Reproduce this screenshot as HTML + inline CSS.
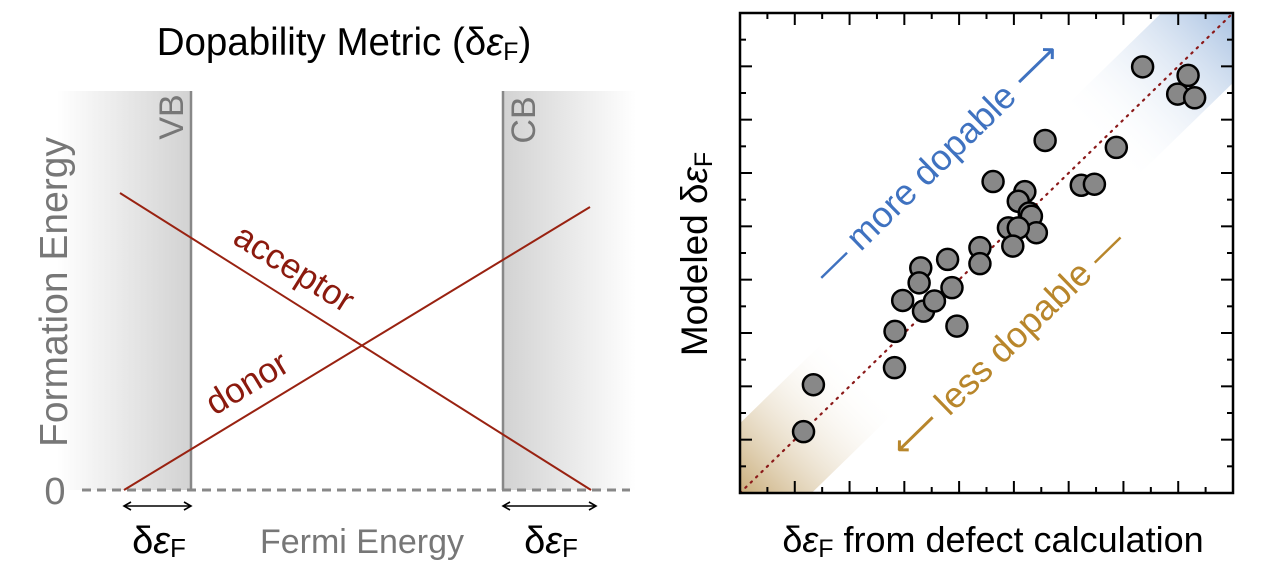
<!DOCTYPE html>
<html><head><meta charset="utf-8"><style>
html,body{margin:0;padding:0;background:#fff;}
svg{display:block;font-family:"Liberation Sans",sans-serif;}
</style></head><body>
<svg width="1283" height="561" viewBox="0 0 1283 561">
<defs>
<linearGradient id="lband" x1="0" x2="1" y1="0" y2="0"><stop offset="0" stop-color="#fff"/><stop offset="1" stop-color="#d2d2d2"/></linearGradient>
<linearGradient id="rband" x1="0" x2="1" y1="0" y2="0"><stop offset="0" stop-color="#d2d2d2"/><stop offset="1" stop-color="#fff"/></linearGradient>
<linearGradient id="blueg" x1="0" x2="1"><stop offset="0" stop-color="#fff" stop-opacity="0"/><stop offset="1" stop-color="#a9c2e2"/></linearGradient>
<linearGradient id="browng" x1="0" x2="1"><stop offset="0" stop-color="#c9ad7a"/><stop offset="1" stop-color="#fff" stop-opacity="0"/></linearGradient>
<marker id="ah" markerWidth="10" markerHeight="10" refX="8" refY="5" orient="auto-start-reverse" markerUnits="userSpaceOnUse"><path d="M1,1 L8,5 L1,9" fill="none" stroke="#000" stroke-width="1.6"/></marker>
</defs>

<g>
<text x="344" y="55" font-size="38.5" text-anchor="middle">Dopability Metric (δ<tspan font-style="italic">ε</tspan><tspan font-size="25" dy="5">F</tspan><tspan dy="-5">)</tspan></text>
<rect x="57" y="91" width="134" height="399" fill="url(#lband)"/>
<rect x="503" y="91" width="133" height="399" fill="url(#rband)"/>
<line x1="191" y1="91" x2="191" y2="490" stroke="#888" stroke-width="2.5"/>
<line x1="503" y1="91" x2="503" y2="490" stroke="#888" stroke-width="2.5"/>
<line x1="82" y1="490" x2="630" y2="490" stroke="#888" stroke-width="3" stroke-dasharray="9,6"/>
<line x1="120" y1="193" x2="591" y2="490" stroke="#992211" stroke-width="2"/>
<line x1="124" y1="490" x2="590" y2="207" stroke="#992211" stroke-width="2"/>
<text transform="translate(288,278) rotate(32)" font-size="35" fill="#8b1a0e" text-anchor="middle">acceptor</text>
<text transform="translate(253,393) rotate(-31)" font-size="35" fill="#8b1a0e" text-anchor="middle">donor</text>
<text transform="translate(183,117) rotate(-90)" font-size="34" fill="#777" text-anchor="middle">VB</text>
<text transform="translate(535,120) rotate(-90)" font-size="34" fill="#777" text-anchor="middle">CB</text>
<text transform="translate(67,292) rotate(-90)" font-size="39" fill="#777" text-anchor="middle">Formation Energy</text>
<text x="55" y="504" font-size="38" fill="#777" text-anchor="middle">0</text>
<line x1="124" y1="506" x2="191" y2="506" stroke="#000" stroke-width="1.6" marker-start="url(#ah)" marker-end="url(#ah)"/>
<line x1="503" y1="506" x2="596" y2="506" stroke="#000" stroke-width="1.6" marker-start="url(#ah)" marker-end="url(#ah)"/>
<text x="159" y="553" font-size="38" text-anchor="middle">δ<tspan font-style="italic">ε</tspan><tspan font-size="26" dy="4">F</tspan></text>
<text x="551" y="553" font-size="38" text-anchor="middle">δ<tspan font-style="italic">ε</tspan><tspan font-size="26" dy="4">F</tspan></text>
<text x="362" y="553" font-size="34" fill="#777" text-anchor="middle">Fermi Energy</text>
</g>

<g id="scatter"></g>
<text transform="translate(707,254) rotate(-90)" font-size="37" text-anchor="middle">Modeled δ<tspan font-style="italic">ε</tspan><tspan font-size="25" dy="5">F</tspan></text>
<text x="993" y="552" font-size="36" text-anchor="middle">δ<tspan font-style="italic">ε</tspan><tspan font-size="25" dy="5">F</tspan><tspan dy="-5"> from defect calculation</tspan></text>
</svg>
<script>
const xVals=[7.35,8.18,7.99,8.30,5.57,6.87,4.62,6.23,6.47,5.20,5.08,5.28,5.32,4.90,5.41,5.08,4.98,4.38,4.38,3.79,3.30,3.27,3.87,2.97,3.35,3.55,2.83,3.96,2.82,1.34,1.16];
const yVals=[7.99,7.83,7.48,7.41,6.61,6.48,5.84,5.77,5.79,5.65,5.47,5.25,5.19,4.97,4.88,4.97,4.63,4.60,4.30,4.38,4.22,3.94,3.85,3.61,3.41,3.60,3.03,3.13,2.35,2.03,1.15];
const axisMax=[9,9];
const NS='http://www.w3.org/2000/svg';
const L=740,R=1233,T=13,B=493;
const sx=v=>L+(v/axisMax[0])*(R-L);
const sy=v=>B-(v/axisMax[1])*(B-T);
const g=document.getElementById('scatter');
function mk(tag,attrs){const e=document.createElementNS(NS,tag);for(const k in attrs)e.setAttribute(k,attrs[k]);g.appendChild(e);return e;}
const ang=-Math.atan2(B-T,R-L)*180/Math.PI;
let bb=mk('rect',{x:-190,y:-50,width:190,height:100,fill:'url(#blueg)',transform:`translate(${R},${T}) rotate(${ang})`});


let br=mk('rect',{x:0,y:-50,width:170,height:100,fill:'url(#browng)',transform:`translate(${L},${B}) rotate(${ang})`});


let m1=mk('rect',{x:R+1,y:0,width:60,height:561,fill:'#fff'});


let m2=mk('rect',{x:700,y:0,width:600,height:T,fill:'#fff'});


let m3=mk('rect',{x:700,y:B,width:560,height:68,fill:'#fff'});


let m4=mk('rect',{x:700,y:0,width:L-700,height:561,fill:'#fff'});


let pl=mk('line',{x1:sx(0),y1:sy(0),x2:sx(axisMax[0]),y2:sy(axisMax[1]),stroke:'#8b1a1a','stroke-width':2.2,'stroke-dasharray':'1.5,6','stroke-linecap':'round'});


for(let i=0;i<=18;i++){
 const v=i/2, len=(i%2===0)?12:6;
 const x=sx(v), y=sy(v);
 for(const [a,b,c,d] of [[x,T,x,T+len],[x,B,x,B-len],[L,y,L+len,y],[R,y,R-len,y]]){
  let t=mk('line',{x1:a,y1:b,x2:c,y2:d,stroke:'#000','stroke-width':2});
  
  
 }
}
let fr=mk('rect',{x:L,y:T,width:R-L,height:B-T,fill:'none',stroke:'#000','stroke-width':2.5});


let t1=mk('text',{transform:`translate(945,170) rotate(${ang})`,'font-size':36,fill:'#3f72c0','text-anchor':'middle'});
t1.textContent='— more dopable ⟶';


let t2=mk('text',{transform:`translate(1016,352) rotate(${ang})`,'font-size':36,fill:'#b8862b','text-anchor':'middle'});
t2.textContent='⟵ less dopable —';


for(let i=0;i<xVals.length;i++){
 let c=mk('circle',{cx:sx(xVals[i]),cy:sy(yVals[i]),r:10.5,fill:'#888',stroke:'#000','stroke-width':2.5});
 
 
}
</script>
</body></html>
